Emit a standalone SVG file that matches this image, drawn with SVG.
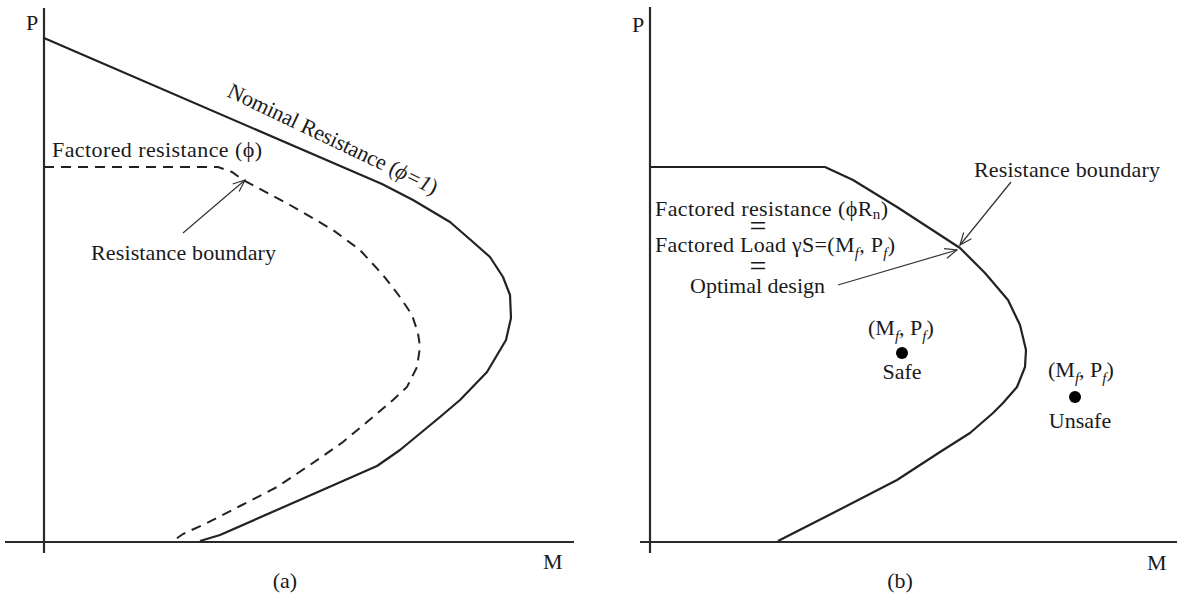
<svg xmlns="http://www.w3.org/2000/svg" width="1177" height="595" viewBox="0 0 1177 595" font-family="'Liberation Serif', 'DejaVu Serif', serif">
<style>
text{font-family:"Liberation Serif","DejaVu Serif",serif;font-size:22px;fill:#1a1a1a}
.ax{stroke:#2a2a2a;stroke-width:2.2;fill:none}
.cv{stroke:#222;stroke-width:2.2;fill:none;stroke-linejoin:round}
.ds{stroke:#222;stroke-width:2;fill:none;stroke-dasharray:10 7}
.ar{stroke:#333;stroke-width:1.2;fill:none;marker-end:url(#ah)}
.sub{font-size:15px;font-style:italic}
.eq{font-size:30px}
</style>
<defs>
<marker id="ah" markerUnits="userSpaceOnUse" markerWidth="14" markerHeight="12" refX="13" refY="6" orient="auto" viewBox="0 0 14 12">
<path d="M1,1 L13,6 L1,11" fill="none" stroke="#333" stroke-width="1.2"/>
</marker>
</defs>
<g id="panel-a-axes">
<line class="ax" x1="44" y1="8" x2="44" y2="553"/>
<line class="ax" x1="5" y1="542" x2="574" y2="542"/>
<text x="26" y="30">P</text>
<text x="543" y="569">M</text>
<text x="285" y="588" text-anchor="middle">(a)</text>
</g>
<g id="nominal-curve">
<path class="cv" d="M44,38 L382,184 L413,200 L450,222 L473,242 L490,257 L503,277 L510,295 L511,318 L506,340 L487,372 L460,400 L440,417 L400,450 L377,466 L220,535 L200,541"/>
<text transform="translate(226,96) rotate(25.5)" textLength="230">Nominal Resistance (<tspan font-style="italic">ϕ=1</tspan>)</text>
</g>
<g id="factored-curve">
<path class="ds" d="M44,167 L218,167 L232,172 L243,180 L290,205 L333,230 L360,250 L383,275 L400,297 L412,315 L418,333 L420,347 L417,367 L407,387 L393,400 L373,417 L343,442 L310,465 L277,487 L240,506 L207,523 L183,534 L173,541"/>
<text x="52" y="157" textLength="210">Factored resistance (ϕ)</text>
</g>
<g id="resistance-boundary-a">
<text x="91" y="260" textLength="185">Resistance boundary</text>
</g>
<g id="panel-b-axes">
<line class="ax" x1="650" y1="7" x2="650" y2="553"/>
<line class="ax" x1="640" y1="542" x2="1177" y2="542"/>
<text x="632" y="32">P</text>
<text x="1147" y="570">M</text>
<text x="900" y="588" text-anchor="middle">(b)</text>
</g>
<g id="resistance-curve-b">
<path class="cv" d="M651,167 L825,167 L853,180 L897,207 L960,248 L985,273 L1008,300 L1020,325 L1026,350 L1025,367 L1017,387 L1003,403 L993,413 L970,433 L940,452 L897,480 L833,513 L778,541"/>
</g>
<g id="resistance-boundary-b">
<text x="974" y="177" textLength="186">Resistance boundary</text>
</g>
<g id="optimal-design">
<text x="655" y="216" textLength="233">Factored resistance (ϕR<tspan font-size="15px" dy="3">n</tspan><tspan dy="-3">)</tspan></text>
<text class="eq" x="758" y="236" text-anchor="middle">=</text>
<text x="655" y="252" textLength="240">Factored Load γS=(M<tspan class="sub" dy="6">f</tspan><tspan dy="-6">, P</tspan><tspan class="sub" dy="6">f</tspan><tspan dy="-6">)</tspan></text>
<text class="eq" x="758" y="276" text-anchor="middle">=</text>
<text x="690" y="293">Optimal design</text>
</g>
<g id="safe-point">
<text x="868" y="335">(M<tspan class="sub" dy="6">f</tspan><tspan dy="-6">, P</tspan><tspan class="sub" dy="6">f</tspan><tspan dy="-6">)</tspan></text>
<circle cx="902" cy="353" r="6" fill="#000"/>
<text x="902" y="379" text-anchor="middle">Safe</text>
</g>
<g id="unsafe-point">
<text x="1048" y="377">(M<tspan class="sub" dy="6">f</tspan><tspan dy="-6">, P</tspan><tspan class="sub" dy="6">f</tspan><tspan dy="-6">)</tspan></text>
<circle cx="1075" cy="397" r="6" fill="#000"/>
<text x="1080" y="428" text-anchor="middle">Unsafe</text>
</g>
<g id="connectors">
<line class="ar" x1="183" y1="233" x2="245" y2="180"/>
<line class="ar" x1="1011" y1="182" x2="960" y2="245"/>
<line class="ar" x1="838" y1="285" x2="957" y2="250"/>
</g>
</svg>
